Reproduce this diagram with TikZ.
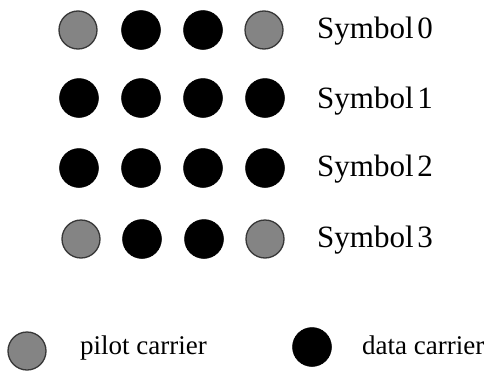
\documentclass[tikz,border=0pt]{standalone}
\usepackage{fontspec}
\setmainfont{Liberation Serif}
\definecolor{pilotfill}{RGB}{132,132,132}
\definecolor{pilotline}{RGB}{55,55,55}
\begin{document}
\begin{tikzpicture}[x=1pt,y=-1pt,
  pilot/.style={circle,fill=pilotfill,draw=pilotline,line width=1.3pt,minimum size=38pt,inner sep=0pt},
  datac/.style={circle,fill=black,draw=black,line width=0.5pt,minimum size=39pt,inner sep=0pt},
  symlabel/.style={anchor=base west,inner sep=0pt,font=\fontsize{31}{36}\selectfont},
  leglabel/.style={anchor=base west,inner sep=0pt,font=\fontsize{27}{32}\selectfont}]
\useasboundingbox (0,0) rectangle (493,375);
% row 0
\node[pilot] (c00) at (78,30) {};
\node[datac] (c01) at (141,30) {};
\node[datac] (c02) at (203,30) {};
\node[pilot] (c03) at (264,30) {};
% row 1
\node[datac] (c10) at (79,98) {};
\node[datac] (c11) at (141,98) {};
\node[datac] (c12) at (203,98) {};
\node[datac] (c13) at (265,98) {};
% row 2
\node[datac] (c20) at (79,168) {};
\node[datac] (c21) at (141,168) {};
\node[datac] (c22) at (203,168) {};
\node[datac] (c23) at (265,168) {};
% row 3
\node[pilot] (c30) at (81,239) {};
\node[datac] (c31) at (142,239) {};
\node[datac] (c32) at (204,239) {};
\node[pilot] (c33) at (265,239) {};
% labels
\node[symlabel] (s0) at (317,38) {Symbol\kern0.12em0};
\node[symlabel] (s1) at (317,108) {Symbol\kern0.12em1};
\node[symlabel] (s2) at (317,176) {Symbol\kern0.12em2};
\node[symlabel] (s3) at (317,247) {Symbol\kern0.12em3};
% legend
\node[pilot] (lp) at (27,351) {};
\node[leglabel] (lpt) at (80,354) {pilot carrier};
\node[datac] (ld) at (312,347) {};
\node[leglabel] (ldt) at (362,354) {data carrier};
\end{tikzpicture}
\end{document}
